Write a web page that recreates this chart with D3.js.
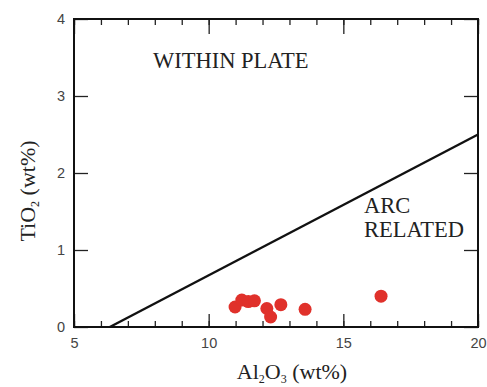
<!DOCTYPE html>
<html>
<head>
<meta charset="utf-8">
<script src="https://cdn.jsdelivr.net/npm/d3@7"></script>
<style>
  body { margin: 0; background: #fff; }
</style>
</head>
<body>
<script>
// Data
const al2o3 = [10.98, 11.23, 11.47, 11.70, 12.16, 12.30, 12.68, 13.58, 16.40]
const tio2 = [0.26, 0.35, 0.33, 0.34, 0.24, 0.13, 0.29, 0.23, 0.40]
const boundary = [[6.33, 0], [20, 2.5]]
const xMajor = [5, 10, 15, 20]
const yMajor = [0, 1, 2, 3, 4]

const width = 487
const height = 387
const margins = { top: 19, right: 9, bottom: 60, left: 74 }

const svg = d3.select('body').append('svg')
  .attr('width', width)
  .attr('height', height)

const xScale = d3.scaleLinear()
  .domain([5, 20])
  .range([margins.left, width - margins.right])

const yScale = d3.scaleLinear()
  .domain([0, 4])
  .range([height - margins.bottom, margins.top])

const x0 = xScale.range()[0], x1 = xScale.range()[1]
const y0 = yScale.range()[0], y1 = yScale.range()[1]

// Minor ticks every 1 on x, major every 5
const xMinor = d3.range(5, 21, 1)

const tickColor = '#222'
const sans = 'Liberation Sans, Arial, sans-serif'
const serif = 'Liberation Serif, Times New Roman, serif'

const styleTicks = g => g.selectAll('line').attr('stroke', tickColor).attr('stroke-width', 1.3)
const styleLabels = g => g.selectAll('text').attr('font-family', sans).attr('font-size', 14.5).attr('fill', '#444')

// Bottom axis: ticks pointing inward (up)
svg.append('g')
  .attr('transform', `translate(0, ${y0})`)
  .call(d3.axisBottom(xScale).tickValues(xMinor).tickSize(-6).tickFormat(''))
  .call(g => g.select('.domain').remove())
  .call(styleTicks)
svg.append('g')
  .attr('transform', `translate(0, ${y0})`)
  .call(d3.axisBottom(xScale).tickValues(xMajor).tickSize(-13).tickPadding(11).tickFormat(d3.format('d')))
  .call(g => g.select('.domain').remove())
  .call(styleTicks)
  .call(styleLabels)

// Top axis: ticks pointing down
svg.append('g')
  .attr('transform', `translate(0, ${y1})`)
  .call(d3.axisTop(xScale).tickValues(xMinor).tickSize(-6).tickFormat(''))
  .call(g => g.select('.domain').remove())
  .call(styleTicks)
svg.append('g')
  .attr('transform', `translate(0, ${y1})`)
  .call(d3.axisTop(xScale).tickValues(xMajor).tickSize(-15).tickFormat(''))
  .call(g => g.select('.domain').remove())
  .call(styleTicks)

// Left axis
svg.append('g')
  .attr('transform', `translate(${x0}, 0)`)
  .call(d3.axisLeft(yScale).tickValues(yMajor).tickSize(-14).tickPadding(9).tickFormat(d3.format('d')))
  .call(g => g.select('.domain').remove())
  .call(styleTicks)
  .call(styleLabels)

// Right axis
svg.append('g')
  .attr('transform', `translate(${x1}, 0)`)
  .call(d3.axisRight(yScale).tickValues(yMajor).tickSize(-14).tickFormat(''))
  .call(g => g.select('.domain').remove())
  .call(styleTicks)

// Frame
svg.append('rect')
  .attr('x', x0).attr('y', y1)
  .attr('width', x1 - x0).attr('height', y0 - y1)
  .attr('fill', 'none')
  .attr('stroke', '#111')
  .attr('stroke-width', 2)

// Boundary line
svg.append('path')
  .datum(boundary)
  .attr('d', d3.line().x(d => xScale(d[0])).y(d => yScale(d[1])))
  .attr('stroke', '#111')
  .attr('stroke-width', 2.4)
  .attr('fill', 'none')

// Points
svg.append('g')
  .selectAll('circle')
  .data(al2o3.map((a, i) => [a, tio2[i]]))
  .join('circle')
  .attr('cx', d => xScale(d[0]))
  .attr('cy', d => yScale(d[1]))
  .attr('r', 6.5)
  .attr('fill', '#e0312b')

// Field labels
svg.append('text')
  .attr('x', 153).attr('y', 68)
  .attr('font-family', serif).attr('font-size', 22.5).attr('fill', '#222')
  .text('WITHIN PLATE')

const arc = svg.append('text')
  .attr('font-family', serif).attr('font-size', 22.5).attr('fill', '#222')
arc.append('tspan').attr('x', 364).attr('y', 213).text('ARC')
arc.append('tspan').attr('x', 364).attr('y', 237).text('RELATED')

// Axis titles
const xt = svg.append('text')
  .attr('x', 292).attr('y', 379)
  .attr('text-anchor', 'middle')
  .attr('font-family', serif).attr('font-size', 22).attr('fill', '#222')
xt.append('tspan').text('Al')
xt.append('tspan').attr('font-size', 12).attr('dy', 4).text('2')
xt.append('tspan').attr('dy', -4).text('O')
xt.append('tspan').attr('font-size', 12).attr('dy', 4).text('3')
xt.append('tspan').attr('dy', -4).text(' (wt%)')

const yt = svg.append('text')
  .attr('transform', `translate(35, 191) rotate(-90)`)
  .attr('text-anchor', 'middle')
  .attr('font-family', serif).attr('font-size', 22).attr('fill', '#222')
yt.append('tspan').text('TiO')
yt.append('tspan').attr('font-size', 12).attr('dy', 4).text('2')
yt.append('tspan').attr('dy', -4).text(' (wt%)')
</script>
</body>
</html>
